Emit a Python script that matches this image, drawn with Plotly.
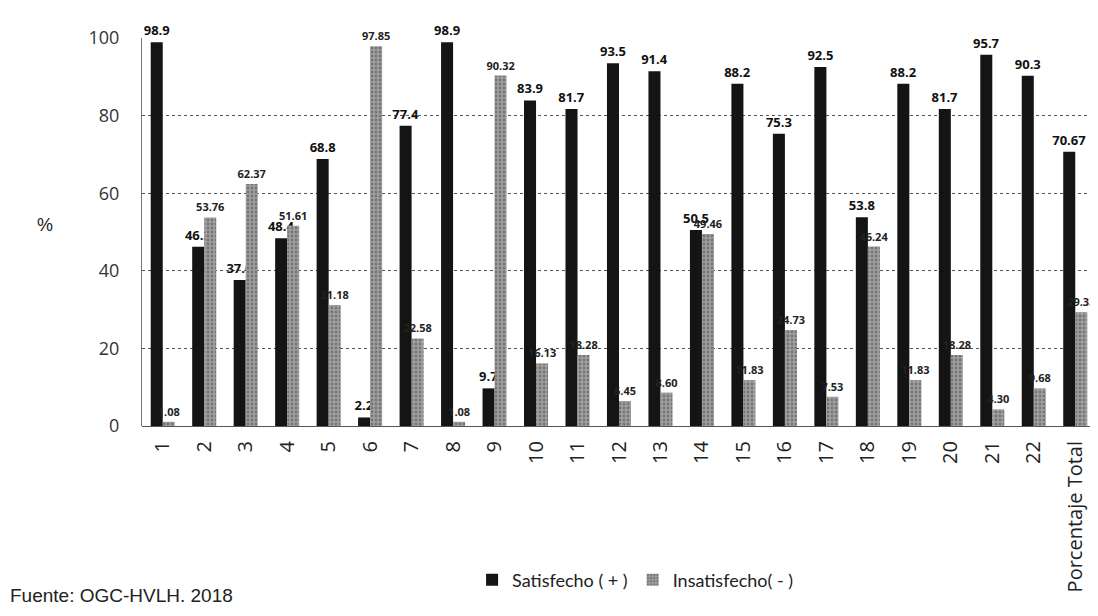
"""
Satisfaccion por item - barras agrupadas Satisfecho / Insatisfecho.
"""

import plotly.graph_objs as go

# Data
categories = [str(i) for i in range(1, 23)] + ['Porcentaje Total']
satisfecho = [98.9, 46.2, 37.6, 48.4, 68.8, 2.2, 77.4, 98.9, 9.7, 83.9, 81.7,
              93.5, 91.4, 50.5, 88.2, 75.3, 92.5, 53.8, 88.2, 81.7, 95.7,
              90.3, 70.67]
insatisfecho = [1.08, 53.76, 62.37, 51.61, 31.18, 97.85, 22.58, 1.08, 90.32,
                16.13, 18.28, 6.45, 8.60, 49.46, 11.83, 24.73, 7.53, 46.24,
                11.83, 18.28, 4.30, 9.68, 29.33]
sat_labels = [f'{v:g}' for v in satisfecho]
insat_labels = [f'{v:.2f}' for v in insatisfecho]

fig = go.Figure()

# Satisfied bars (near black)
fig.add_trace(go.Bar(
    x=categories, y=satisfecho, name='Satisfecho ( + )',
    marker=dict(color='#141414', line=dict(width=0)),
    text=sat_labels, textposition='outside', cliponaxis=False,
    constraintext='none',
    textfont=dict(family='Open Sans', size=13, color='#111111', weight='bold'),
))

# Unsatisfied bars (speckled grey)
fig.add_trace(go.Bar(
    x=categories, y=insatisfecho, name='Insatisfecho( - )',
    marker=dict(color='#a0a0a0', line=dict(width=0),
                pattern=dict(shape='.', fgcolor='#4a4a4a', size=4, solidity=0.4)),
    text=insat_labels, textposition='outside', cliponaxis=False,
    constraintext='none',
    textfont=dict(family='Open Sans', size=11, color='#222222', weight='bold'),
))

# the page body adds an 8px offset, so the figure is 8px smaller
fig.update_layout(
    width=1090, height=608,
    paper_bgcolor='white', plot_bgcolor='white',
    margin=dict(l=134, r=2, t=30, b=190),
    barmode='group', bargap=0.42, bargroupgap=0,
    font=dict(family='Liberation Sans', color='#333333'),
    showlegend=True,
    legend=dict(
        orientation='h', x=0.346, y=-0.397, xanchor='left', yanchor='middle',
        font=dict(family='Lato', size=18, color='#222222'),
        itemwidth=30, traceorder='normal',
    ),
    annotations=[
        dict(text='Fuente: OGC-HVLH. 2018', xref='paper', yref='paper',
             x=-0.14, y=-0.438, xanchor='left', yanchor='middle',
             showarrow=False,
             font=dict(family='Liberation Sans', size=19, color='#222222')),
        dict(text='%', xref='paper', yref='paper', x=-0.102, y=0.518,
             xanchor='center', yanchor='middle', showarrow=False,
             font=dict(family='Liberation Sans', size=18, color='#222222')),
    ],
)

fig.update_xaxes(
    tickangle=-90, showgrid=False,
    tickfont=dict(family='Open Sans', size=20, color='#222222'),
    showline=False, ticks='', ticklabelstandoff=10,
)

fig.update_yaxes(
    range=[0, 100], tickvals=[0, 20, 40, 60, 80, 100],
    showgrid=True, gridcolor='#555555', griddash='dot', gridwidth=1,
    zeroline=True, zerolinecolor='#555555', zerolinewidth=1,
    showline=True, linecolor='#777777', linewidth=1,
    tickfont=dict(family='Open Sans', size=18, color='#333333'),
    ticklabelstandoff=18,
)

fig.write_html('out.html')
